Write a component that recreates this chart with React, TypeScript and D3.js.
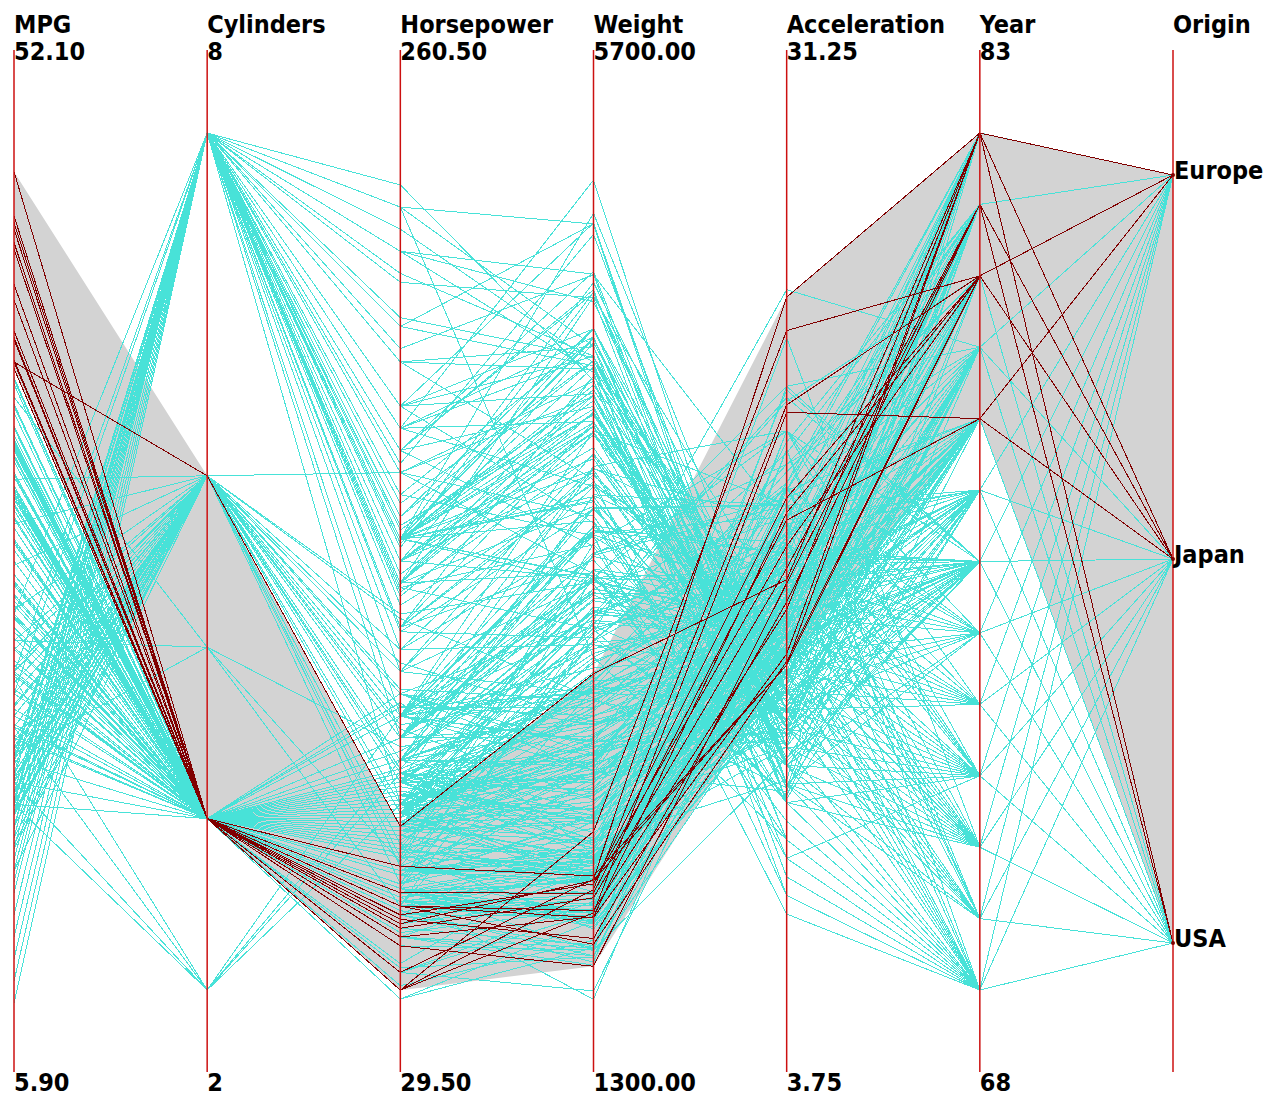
import * as d3 from 'd3';

// Auto MPG data, one array per model year.
// row: [mpg, cylinders, horsepower, weight, acceleration, origin]  origin: 1 USA, 2 Europe, 3 Japan
type Row = [number, number, number, number, number, number];

const cars70: Row[] = [
    [18, 8, 130, 3504, 12.0, 1], [15, 8, 165, 3693, 11.5, 1], [18, 8, 150, 3436, 11.0, 1], [16, 8, 150, 3433, 12.0, 1],
    [17, 8, 140, 3449, 10.5, 1], [15, 8, 198, 4341, 10.0, 1], [14, 8, 220, 4354, 9.0, 1], [14, 8, 215, 4312, 8.5, 1],
    [14, 8, 225, 4425, 10.0, 1], [15, 8, 190, 3850, 8.5, 1], [15, 8, 170, 3563, 10.0, 1], [14, 8, 160, 3609, 8.0, 1],
    [15, 8, 150, 3761, 9.5, 1], [14, 8, 225, 3086, 10.0, 1], [24, 4, 95, 2372, 15.0, 3], [22, 6, 95, 2833, 15.5, 1],
    [18, 6, 97, 2774, 15.5, 1], [21, 6, 85, 2587, 16.0, 1], [27, 4, 88, 2130, 14.5, 3], [26, 4, 46, 1835, 20.5, 2],
    [25, 4, 87, 2672, 17.5, 2], [24, 4, 90, 2430, 14.5, 2], [25, 4, 95, 2375, 17.5, 2], [26, 4, 113, 2234, 12.5, 2],
    [21, 6, 90, 2648, 15.0, 1], [10, 8, 215, 4615, 14.0, 1], [10, 8, 200, 4376, 15.0, 1], [11, 8, 210, 4382, 13.5, 1],
    [9, 8, 193, 4732, 18.5, 1],
];
const cars71: Row[] = [
    [27, 4, 90, 2264, 15.5, 1], [28, 4, 95, 2228, 14.0, 3], [19, 6, 100, 2634, 13.0, 1], [16, 6, 105, 3439, 15.5, 1],
    [17, 6, 100, 3329, 15.5, 1], [19, 6, 88, 3302, 15.5, 1], [18, 6, 100, 3288, 15.5, 1], [14, 8, 165, 4209, 12.0, 1],
    [14, 8, 175, 4464, 11.5, 1], [14, 8, 153, 4154, 13.5, 1], [14, 8, 150, 4096, 13.0, 1], [12, 8, 180, 4955, 11.5, 1],
    [13, 8, 170, 4746, 12.0, 1], [13, 8, 175, 5140, 12.0, 1], [18, 6, 110, 2962, 13.5, 1], [22, 4, 72, 2408, 19.0, 1],
    [19, 6, 100, 3282, 15.0, 1], [18, 6, 88, 3139, 14.5, 1], [23, 4, 86, 2220, 14.0, 1], [28, 4, 90, 2123, 14.0, 2],
    [30, 4, 70, 2074, 19.5, 2], [30, 4, 76, 2065, 14.5, 2], [31, 4, 65, 1773, 19.0, 3], [35, 4, 69, 1613, 18.0, 3],
    [27, 4, 60, 1834, 19.0, 2], [26, 4, 70, 1955, 20.5, 1],
];
const cars72: Row[] = [
    [24, 4, 95, 2278, 15.5, 3], [25, 4, 80, 2126, 17.0, 1], [23, 4, 54, 2254, 23.5, 2], [20, 4, 90, 2408, 19.5, 1],
    [21, 4, 86, 2226, 16.5, 1], [13, 8, 165, 4274, 12.0, 1], [14, 8, 175, 4385, 12.0, 1], [15, 8, 150, 4135, 13.5, 1],
    [14, 8, 153, 4129, 13.0, 1], [17, 8, 150, 3672, 11.5, 1], [11, 8, 208, 4633, 11.0, 1], [13, 8, 155, 4502, 13.5, 1],
    [12, 8, 160, 4456, 13.5, 1], [13, 8, 190, 4422, 12.5, 1], [19, 3, 97, 2330, 13.5, 3], [15, 8, 150, 3892, 12.5, 1],
    [13, 8, 130, 4098, 14.0, 1], [13, 8, 140, 4294, 16.0, 1], [14, 8, 150, 4077, 14.0, 1], [18, 4, 112, 2933, 14.5, 2],
    [22, 4, 76, 2511, 18.0, 2], [21, 4, 87, 2979, 19.5, 2], [26, 4, 69, 2189, 18.0, 2], [22, 4, 86, 2395, 16.0, 1],
    [28, 4, 92, 2288, 17.0, 3], [23, 4, 97, 2506, 14.5, 3], [28, 4, 80, 2164, 15.0, 1], [27, 4, 88, 2100, 16.5, 3],
];
const cars73: Row[] = [
    [13, 8, 175, 4100, 13.0, 1], [14, 8, 150, 3672, 11.5, 1], [13, 8, 145, 3988, 13.0, 1], [14, 8, 137, 4042, 14.5, 1],
    [15, 8, 150, 3777, 12.5, 1], [12, 8, 198, 4952, 11.5, 1], [13, 8, 150, 4464, 12.0, 1], [13, 8, 158, 4363, 13.0, 1],
    [14, 8, 150, 4237, 14.5, 1], [13, 8, 215, 4735, 11.0, 1], [12, 8, 225, 4951, 11.0, 1], [13, 8, 175, 3821, 11.0, 1],
    [18, 6, 105, 3121, 16.5, 1], [16, 6, 100, 3278, 18.0, 1], [18, 6, 100, 2945, 16.0, 1], [18, 6, 88, 3021, 16.5, 1],
    [23, 6, 95, 2904, 16.0, 1], [26, 4, 46, 1950, 21.0, 2], [11, 8, 150, 4997, 14.0, 1], [12, 8, 167, 4906, 12.5, 1],
    [13, 8, 170, 4654, 13.0, 1], [12, 8, 180, 4499, 12.5, 1], [18, 6, 100, 2789, 15.0, 1], [20, 4, 88, 2279, 19.0, 3],
    [21, 4, 72, 2401, 19.5, 1], [22, 4, 94, 2379, 16.5, 3], [18, 3, 90, 2124, 13.5, 3], [19, 4, 85, 2310, 18.5, 1],
    [21, 6, 107, 2472, 14.0, 1], [26, 4, 90, 2265, 15.5, 2], [15, 8, 145, 4082, 13.0, 1], [16, 8, 230, 4278, 9.5, 1],
    [29, 4, 49, 1867, 19.5, 2], [24, 4, 75, 2158, 15.5, 2], [20, 4, 91, 2582, 14.0, 2], [19, 4, 112, 2868, 15.5, 2],
    [15, 8, 150, 3399, 11.0, 1], [24, 4, 110, 2660, 14.0, 2], [20, 6, 122, 2807, 13.5, 3], [11, 8, 180, 3664, 11.0, 1],
];
const cars74: Row[] = [
    [20, 6, 95, 3102, 16.5, 1], [19, 6, 100, 2901, 16.0, 1], [15, 6, 100, 3336, 17.0, 1], [31, 4, 67, 1950, 19.0, 3],
    [26, 4, 80, 2451, 16.5, 1], [32, 4, 65, 1836, 21.0, 3], [25, 4, 75, 2542, 17.0, 1], [16, 6, 100, 3781, 17.0, 1],
    [16, 6, 110, 3632, 18.0, 1], [18, 6, 105, 3613, 16.5, 1], [16, 8, 140, 4141, 14.0, 1], [13, 8, 150, 4699, 14.5, 1],
    [14, 8, 150, 4457, 13.5, 1], [14, 8, 140, 4638, 16.0, 1], [14, 8, 150, 4257, 15.5, 1], [29, 4, 83, 2219, 16.5, 2],
    [26, 4, 67, 1963, 15.5, 2], [26, 4, 78, 2300, 14.5, 2], [31, 4, 52, 1649, 16.5, 3], [32, 4, 61, 2003, 19.0, 3],
    [28, 4, 75, 2125, 14.5, 1], [24, 4, 75, 2108, 15.5, 2], [26, 4, 75, 2246, 14.0, 2], [24, 4, 97, 2489, 15.0, 3],
    [26, 4, 93, 2391, 15.5, 3], [31, 4, 67, 2000, 16.0, 2],
];
const cars75: Row[] = [
    [19, 6, 95, 3264, 16.0, 1], [18, 6, 105, 3459, 16.0, 1], [15, 6, 72, 3432, 21.0, 1], [15, 6, 72, 3158, 19.5, 1],
    [16, 8, 170, 4668, 11.5, 1], [15, 8, 145, 4440, 14.0, 1], [16, 8, 150, 4498, 14.5, 1], [14, 8, 148, 4657, 13.5, 1],
    [17, 6, 110, 3907, 21.0, 1], [16, 6, 105, 3897, 18.5, 1], [15, 6, 110, 3730, 19.0, 1], [18, 6, 95, 3785, 19.0, 1],
    [21, 6, 110, 3039, 15.0, 1], [20, 8, 110, 3221, 13.5, 1], [13, 8, 129, 3169, 12.0, 1], [29, 4, 75, 2171, 16.0, 3],
    [23, 4, 83, 2639, 17.0, 1], [20, 6, 100, 2914, 16.0, 1], [23, 4, 78, 2592, 18.5, 1], [24, 4, 96, 2702, 13.5, 3],
    [25, 4, 71, 2223, 16.5, 2], [24, 4, 97, 2545, 17.0, 3], [18, 6, 97, 2984, 14.5, 1], [29, 4, 70, 1937, 14.0, 2],
    [19, 6, 90, 3211, 17.0, 1], [23, 4, 95, 2694, 15.0, 2], [23, 4, 88, 2957, 17.0, 2], [22, 4, 98, 2945, 14.5, 2],
    [25, 4, 115, 2671, 13.5, 2], [33, 4, 53, 1795, 17.5, 3],
];
const cars76: Row[] = [
    [28, 4, 86, 2464, 15.5, 2], [25, 4, 81, 2220, 16.9, 2], [25, 4, 92, 2572, 14.9, 1], [26, 4, 79, 2255, 17.7, 1],
    [27, 4, 83, 2202, 15.3, 2], [17.5, 8, 140, 4215, 13.0, 1], [16, 8, 150, 4190, 13.0, 1], [15.5, 8, 120, 3962, 13.9, 1],
    [14.5, 8, 152, 4215, 12.8, 1], [22, 6, 100, 3233, 15.4, 1], [22, 6, 105, 3353, 14.5, 1], [24, 6, 81, 3012, 17.6, 1],
    [22.5, 6, 90, 3085, 17.6, 1], [29, 4, 52, 2035, 22.2, 1], [24.5, 4, 60, 2164, 22.1, 1], [29, 4, 70, 1937, 14.2, 2],
    [33, 4, 53, 1795, 17.4, 3], [20, 6, 100, 3651, 17.7, 1], [18, 6, 78, 3574, 21.0, 1], [18.5, 6, 110, 3645, 16.2, 1],
    [17.5, 6, 95, 3193, 17.8, 1], [29.5, 4, 71, 1825, 12.2, 2], [32, 4, 70, 1990, 17.0, 3], [28, 4, 75, 2155, 16.4, 3],
    [26.5, 4, 72, 2565, 13.6, 1], [20, 4, 102, 3150, 15.7, 2], [13, 8, 150, 3940, 13.2, 1], [19, 4, 88, 3270, 21.9, 2],
    [19, 6, 108, 2930, 15.5, 3], [16.5, 6, 120, 3820, 16.7, 2], [16.5, 8, 180, 4380, 12.1, 1], [13, 8, 145, 4055, 12.0, 1],
    [13, 8, 130, 3870, 15.0, 1], [13, 8, 150, 3755, 14.0, 1],
];
const cars77: Row[] = [
    [31.5, 4, 68, 2045, 18.5, 3], [30, 4, 80, 2155, 14.8, 1], [36, 4, 58, 1825, 18.6, 2], [25.5, 4, 96, 2300, 15.5, 1],
    [33.5, 4, 70, 1945, 16.8, 3], [17.5, 8, 145, 3880, 12.5, 1], [17, 8, 110, 4060, 19.0, 1], [15.5, 8, 145, 4140, 13.7, 1],
    [15, 8, 130, 4295, 14.9, 1], [17.5, 6, 110, 3520, 16.4, 1], [20.5, 6, 105, 3425, 16.9, 1], [19, 6, 100, 3630, 17.7, 1],
    [18.5, 6, 98, 3525, 19.0, 1], [16, 8, 180, 4220, 11.1, 1], [15.5, 8, 170, 4165, 11.4, 1], [15.5, 8, 190, 4325, 12.2, 1],
    [16, 8, 149, 4335, 14.5, 1], [29, 4, 78, 1940, 14.5, 2], [24.5, 4, 88, 2740, 16.0, 1], [26, 4, 75, 2265, 18.2, 3],
    [25.5, 4, 89, 2755, 15.8, 1], [30.5, 4, 63, 2051, 17.0, 1], [33.5, 4, 83, 2075, 15.9, 1], [30, 4, 67, 1985, 16.4, 3],
    [30.5, 4, 78, 2190, 14.1, 2], [22, 6, 97, 2815, 14.5, 3], [21.5, 4, 110, 2600, 12.8, 2], [21.5, 3, 110, 2720, 13.5, 3],
];
const cars78: Row[] = [
    [43.1, 4, 48, 1985, 21.5, 2], [36.1, 4, 66, 1800, 14.4, 1], [32.8, 4, 52, 1985, 19.4, 3], [39.4, 4, 70, 2070, 18.6, 3],
    [36.1, 4, 60, 1800, 16.4, 3], [19.9, 8, 110, 3365, 15.5, 1], [19.4, 8, 140, 3735, 13.2, 1], [20.2, 8, 139, 3570, 12.8, 1],
    [19.2, 6, 105, 3535, 19.2, 1], [20.5, 6, 95, 3155, 18.2, 1], [20.2, 6, 85, 2965, 15.8, 1], [25.1, 4, 88, 2720, 15.4, 1],
    [20.5, 6, 100, 3430, 17.2, 1], [19.4, 6, 90, 3210, 17.2, 1], [20.6, 6, 105, 3380, 15.8, 1], [20.8, 6, 85, 3070, 16.7, 1],
    [18.6, 6, 110, 3620, 18.7, 1], [18.1, 6, 120, 3410, 15.1, 1], [19.2, 8, 145, 3425, 13.2, 1], [17.7, 6, 165, 3445, 13.4, 1],
    [18.1, 8, 139, 3205, 11.2, 1], [17.5, 8, 140, 4080, 13.7, 1], [30, 4, 68, 2155, 16.5, 1], [27.5, 4, 95, 2560, 14.2, 3],
    [27.2, 4, 97, 2300, 14.7, 3], [30.9, 4, 75, 2230, 14.5, 1], [21.1, 4, 95, 2515, 14.8, 3], [23.2, 4, 105, 2745, 16.7, 1],
    [23.8, 4, 85, 2855, 17.6, 1], [23.9, 4, 97, 2405, 14.9, 3], [20.3, 5, 103, 2830, 15.9, 2], [17, 6, 125, 3140, 13.6, 2],
    [21.6, 4, 115, 2795, 15.7, 2], [16.2, 6, 133, 3410, 15.8, 2], [31.5, 4, 71, 1990, 14.9, 2], [29.5, 4, 68, 2135, 16.6, 3],
];
const cars79: Row[] = [
    [21.5, 6, 115, 3245, 15.4, 1], [19.8, 6, 85, 2990, 18.2, 1], [22.3, 4, 88, 2890, 17.3, 1], [20.2, 6, 90, 3265, 18.2, 1],
    [20.6, 6, 110, 3360, 16.6, 1], [17, 8, 130, 3840, 15.4, 1], [17.6, 8, 129, 3725, 13.4, 1], [16.5, 8, 138, 3955, 13.2, 1],
    [18.2, 8, 135, 3830, 15.2, 1], [16.9, 8, 155, 4360, 14.9, 1], [15.5, 8, 142, 4054, 14.3, 1], [19.2, 8, 125, 3605, 15.0, 1],
    [18.5, 8, 150, 3940, 13.0, 1], [31.9, 4, 71, 1925, 14.0, 2], [34.1, 4, 65, 1975, 15.2, 3], [35.7, 4, 80, 1915, 14.4, 1],
    [27.4, 4, 80, 2670, 15.0, 1], [25.4, 5, 77, 3530, 20.1, 2], [23, 8, 125, 3900, 17.4, 1], [27.2, 4, 71, 3190, 24.8, 2],
    [23.9, 8, 90, 3420, 22.2, 1], [34.2, 4, 70, 2200, 13.2, 1], [34.5, 4, 70, 2150, 14.9, 1], [31.8, 4, 65, 2020, 19.2, 3],
    [37.3, 4, 69, 2130, 14.7, 2], [28.4, 4, 90, 2670, 16.0, 1], [28.8, 6, 115, 2595, 11.3, 1], [26.8, 6, 115, 2700, 12.9, 1],
    [33.5, 4, 90, 2556, 13.2, 1],
];
const cars80: Row[] = [
    [41.5, 4, 76, 2144, 14.7, 2], [38.1, 4, 60, 1968, 18.8, 3], [32.1, 4, 70, 2120, 15.5, 1], [37.2, 4, 65, 2019, 16.4, 3],
    [28, 4, 90, 2678, 16.5, 1], [26.4, 4, 88, 2870, 18.1, 1], [24.3, 4, 90, 3003, 20.1, 1], [19.1, 6, 90, 3381, 18.7, 1],
    [34.3, 4, 78, 2188, 15.8, 2], [29.8, 4, 90, 2711, 15.5, 3], [31.3, 4, 75, 2542, 17.5, 3], [37, 4, 92, 2434, 15.0, 3],
    [32.2, 4, 75, 2265, 15.2, 3], [46.6, 4, 65, 2110, 17.9, 3], [27.9, 4, 105, 2800, 14.4, 1], [40.8, 4, 65, 2110, 19.2, 3],
    [44.3, 4, 48, 2085, 21.7, 2], [43.4, 4, 48, 2335, 23.7, 2], [36.4, 5, 67, 2950, 19.9, 2], [30, 4, 67, 3250, 21.8, 2],
    [44.6, 4, 67, 1850, 14.8, 3], [33.8, 4, 67, 2145, 18.0, 3], [29.8, 4, 62, 1845, 15.3, 2], [32.7, 6, 132, 2910, 11.4, 3],
    [23.7, 3, 100, 2420, 12.5, 3], [35, 4, 88, 2500, 15.1, 2], [32.4, 4, 72, 2290, 17.0, 3],
];
const cars81: Row[] = [
    [27.2, 4, 84, 2490, 15.7, 1], [26.6, 4, 84, 2635, 16.4, 1], [25.8, 4, 92, 2620, 14.4, 1], [23.5, 6, 110, 2725, 12.6, 1],
    [30, 4, 84, 2385, 12.9, 1], [39.1, 4, 58, 1755, 16.9, 3], [39, 4, 64, 1875, 16.4, 1], [35.1, 4, 60, 1760, 16.1, 3],
    [32.3, 4, 67, 2065, 17.8, 3], [37, 4, 65, 1975, 19.4, 3], [37.7, 4, 62, 2050, 17.3, 3], [34.1, 4, 68, 1985, 16.0, 3],
    [34.7, 4, 63, 2215, 14.9, 1], [34.4, 4, 65, 2045, 16.2, 1], [29.9, 4, 65, 2380, 20.7, 1], [33, 4, 74, 2190, 14.2, 2],
    [33.7, 4, 75, 2210, 14.4, 3], [32.4, 4, 75, 2350, 16.8, 3], [32.9, 4, 100, 2615, 14.8, 3], [31.6, 4, 74, 2635, 18.3, 3],
    [28.1, 4, 80, 3230, 20.4, 2], [30.7, 6, 76, 3160, 19.6, 2], [25.4, 6, 116, 2900, 12.6, 3], [24.2, 6, 120, 2930, 13.8, 3],
    [22.4, 6, 110, 3415, 15.8, 1], [26.6, 8, 105, 3725, 19.0, 1], [20.2, 6, 88, 3060, 17.1, 1], [17.6, 6, 85, 3465, 16.6, 1],
];
const cars82: Row[] = [
    [28, 4, 88, 2605, 19.6, 1], [27, 4, 88, 2640, 18.6, 1], [34, 4, 88, 2395, 18.0, 1], [31, 4, 85, 2575, 16.2, 1],
    [29, 4, 84, 2525, 16.0, 1], [27, 4, 90, 2735, 18.0, 1], [24, 4, 92, 2865, 16.4, 1], [36, 4, 74, 1980, 15.3, 2],
    [37, 4, 68, 2025, 18.2, 3], [31, 4, 68, 1970, 17.6, 3], [38, 4, 63, 2125, 14.7, 1], [36, 4, 70, 2125, 17.3, 1],
    [36, 4, 88, 2160, 14.5, 3], [36, 4, 75, 2205, 14.5, 3], [34, 4, 70, 2245, 16.9, 3], [38, 4, 67, 1965, 15.0, 3],
    [32, 4, 67, 1965, 15.7, 3], [38, 4, 67, 1995, 16.2, 3], [25, 6, 110, 2945, 16.4, 1], [38, 6, 85, 3015, 17.0, 1],
    [26, 4, 92, 2585, 14.5, 1], [22, 6, 112, 2835, 14.7, 1], [32, 4, 96, 2665, 13.9, 3], [36, 4, 84, 2370, 13.0, 1],
    [27, 4, 90, 2950, 17.3, 1], [27, 4, 86, 2790, 15.6, 1], [44, 4, 52, 2130, 24.6, 2], [32, 4, 84, 2295, 11.6, 1],
    [28, 4, 79, 2625, 18.6, 1], [31, 4, 82, 2720, 19.4, 1],
];

const modelYears = [70, 71, 72, 73, 74, 75, 76, 77, 78, 79, 80, 81, 82];
const carsByYear = [cars70, cars71, cars72, cars73, cars74, cars75, cars76, cars77, cars78, cars79, cars80, cars81, cars82];

const dimensions = ['MPG', 'Cylinders', 'Horsepower', 'Weight', 'Acceleration', 'Year', 'Origin'];
const maxLabels = ['52.10', '8', '260.50', '5700.00', '31.25', '83', ''];
const minLabels = ['5.90', '2', '29.50', '1300.00', '3.75', '68', ''];
const originCodes = [1, 2, 3];
const originNames = ['USA', 'Europe', 'Japan'];
const originOrder = ['Europe', 'Japan', 'USA']; // top to bottom on the axis
const mpgBrush = [37.5, 52.1]; // highlighted selection on the MPG axis

const W = 1266;
const H = 1097;
const AXIS_TOP = 50;
const AXIS_BOTTOM = 1072;
const FONT = "'DejaVu Sans Condensed', 'DejaVu Sans', sans-serif";

const x = d3.scalePoint<string>().domain(dimensions).range([14, 1173]);

const yMpg = d3.scaleLinear().domain([5.9, 52.1]).range([AXIS_BOTTOM, AXIS_TOP]);
const yCyl = d3.scaleLinear().domain([3, 8]).range([990, 133]);
const yHp = d3.scaleLinear().domain([29.5, 260.5]).range([AXIS_BOTTOM, AXIS_TOP]);
const yWeight = d3.scaleLinear().domain([1300, 5700]).range([AXIS_BOTTOM, AXIS_TOP]);
const yAcc = d3.scaleLinear().domain([3.75, 31.25]).range([AXIS_BOTTOM, AXIS_TOP]);
const yYear = d3.scaleLinear().domain([70, 82]).range([990, 133]);
const yOrigin = d3.scalePoint<string>().domain(originOrder).range([175, 943]);

interface Car {
    values: number[]; // mpg, cyl, hp, weight, acc, year
    origin: string;
}

const cars: Car[] = carsByYear.flatMap((rows, i) =>
    rows.map(r => ({
        values: [r[0], r[1], r[2], r[3], r[4], modelYears[i]],
        origin: originNames[originCodes.indexOf(r[5])],
    }))
);

const numericScales = [yMpg, yCyl, yHp, yWeight, yAcc, yYear];

function carYs(c: Car): number[] {
    return [...c.values.map((v, i) => numericScales[i](v)), yOrigin(c.origin) as number];
}

const line = d3.line<number>().x((_, i) => x(dimensions[i]) as number).y(d => d);

const isSelected = (c: Car) => c.values[0] >= mpgBrush[0] && c.values[0] <= mpgBrush[1];

export default function App() {
    const rest = cars.filter(c => !isSelected(c));
    const picked = cars.filter(isSelected);

    // envelope of the selected records on every axis
    const pickedYs = picked.map(carYs);
    const top = dimensions.map((_, i) => d3.min(pickedYs, p => p[i]) as number);
    const bottom = dimensions.map((_, i) => d3.max(pickedYs, p => p[i]) as number);
    const band = [
        ...top.map((y, i) => [x(dimensions[i]) as number, y]),
        ...bottom.map((y, i) => [x(dimensions[i]) as number, y]).reverse(),
    ];

    return (
        <svg width={W} height={H} style={{ position: 'absolute', left: 0, top: 0, background: '#fff' }}>
            <polygon points={band.map(p => p.join(',')).join(' ')} fill="#d3d3d3" />
            <g fill="none" stroke="#48e2d8" strokeWidth={1} shapeRendering="crispEdges">
                {rest.map((c, i) => <path key={i} d={line(carYs(c)) ?? ''} />)}
            </g>
            <g fill="none" stroke="#800000" strokeWidth={1} shapeRendering="crispEdges">
                {picked.map((c, i) => <path key={i} d={line(carYs(c)) ?? ''} />)}
            </g>
            {dimensions.map(d => (
                <line key={d} x1={x(d)} x2={x(d)} y1={AXIS_TOP} y2={AXIS_BOTTOM} stroke="#cc1010" strokeWidth={1.5} />
            ))}
            <g fontFamily={FONT} fontWeight="bold" fontSize={25} fill="#000">
                {dimensions.map((d, i) => (
                    <g key={d}>
                        <text x={x(d)} y={33}>{d}</text>
                        <text x={x(d)} y={60}>{maxLabels[i]}</text>
                        <text x={x(d)} y={1091}>{minLabels[i]}</text>
                    </g>
                ))}
                {originOrder.map(o => (
                    <text key={o} x={(x('Origin') as number) + 1} y={(yOrigin(o) as number) + 4}>{o}</text>
                ))}
            </g>
            {originOrder.map(o => (
                <circle key={o} cx={x('Origin')} cy={yOrigin(o)} r={2} fill="#800000" />
            ))}
        </svg>
    );
}
